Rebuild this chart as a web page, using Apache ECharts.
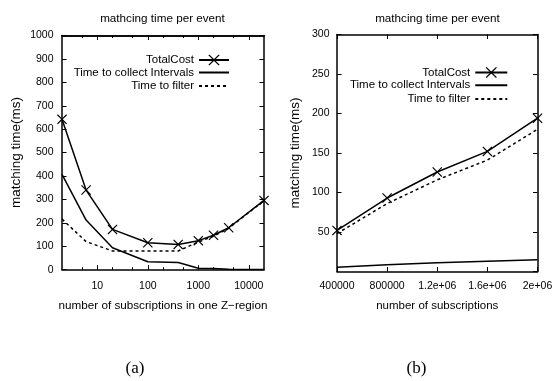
<!DOCTYPE html>
<html>
<head>
<meta charset="utf-8">
<script src="https://cdn.jsdelivr.net/npm/echarts@6/dist/echarts.min.js"></script>
<style>
  html, body { margin: 0; padding: 0; background: #fff; }
  #main { width: 552px; height: 381px; }
</style>
</head>
<body>
<div id="main"></div>
<script>
// (a) matching time vs number of subscriptions in one Z-region (log x)
const zoneSizes = [2, 6, 20, 100, 400, 1000, 2000, 4000, 20000]
const zoneTotal = [642, 340, 172, 115, 108, 124, 147, 179, 296]
const zoneCollect = [407, 212, 94, 34, 31, 6, 5, 2, 1]
const zoneFilter = [216, 120, 80, 80, 80, 118, 143, 177, 295]
const zoneMajorTicks = [10, 100, 1000, 10000]
const zoneMinorTicks = [5, 20, 50, 200, 500, 2000, 5000]

// (b) matching time vs number of subscriptions
const subCounts = [400000, 800000, 1200000, 1600000, 2000000]
const subTotal = [52, 93, 126, 152, 194]
const subCollect = [5.5, 8.5, 11, 13, 15]
const subFilter = [48, 86, 116, 141, 180]
const subTickLabels = ['400000', '800000', '1.2e+06', '1.6e+06', '2e+06']

const FONT = 'Liberation Sans'
const BLACK = '#000'
// gnuplot-ish X point marker
const CROSS = 'path://M0,0.8L0.8,0L5,4.2L9.2,0L10,0.8L5.8,5L10,9.2L9.2,10L5,5.8L0.8,10L0,9.2L4.2,5Z'

const zip = (xs, ys) => xs.map((x, i) => [x, ys[i]])
const plain = (v) => String(v)

const chartDom = document.getElementById('main')
const myChart = echarts.init(chartDom, null, { renderer: 'canvas' })

const tickStyle = { color: BLACK, width: 1 }
const lineAxis = { show: true, onZero: false, lineStyle: { color: BLACK, width: 1.5 } }
const nameStyle = (size) => ({ color: BLACK, fontFamily: FONT, fontSize: size })

// extra axis that only draws ticks (mirror / minor)
function tickAxis(base, position, values, len) {
  return Object.assign({}, base, {
    position: position,
    axisLine: position === 'top' || position === 'right' ? lineAxis : { show: false },
    axisLabel: { show: false },
    splitLine: { show: false },
    axisTick: { show: true, inside: true, length: len, lineStyle: tickStyle, customValues: values },
    name: ''
  })
}

const logBase = { type: 'log', logBase: 10, gridIndex: 0, min: 2, max: 20000 }
const subBase = { type: 'value', gridIndex: 1, min: 400000, max: 2000000, interval: 400000 }
const leftYBase = { type: 'value', gridIndex: 0, min: 0, max: 1000, interval: 100 }
const rightYBase = { type: 'value', gridIndex: 1, min: 0, max: 300, interval: 50 }

function legendRow(name, right, top, width, marker) {
  return {
    data: [name],
    orient: 'vertical',
    align: 'right',
    right: right,
    top: top,
    padding: 0,
    itemWidth: width,
    itemHeight: 14,
    selectedMode: false,
    itemStyle: marker ? {} : { opacity: 0 },
    textStyle: { color: BLACK, fontFamily: FONT, fontSize: 11.5 }
  }
}

function lineSeries(name, data, xi, yi, dashed, marker) {
  return {
    name: name,
    type: 'line',
    xAxisIndex: xi,
    yAxisIndex: yi,
    data: data,
    symbol: marker ? CROSS : 'none',
    symbolSize: 10,
    itemStyle: { color: BLACK },
    lineStyle: { color: BLACK, width: 1.5, type: dashed ? [3, 3] : 'solid' },
    emphasis: { disabled: true },
    z: 3
  }
}

const option = {
  animation: false,
  backgroundColor: '#fff',
  textStyle: { fontFamily: FONT, color: BLACK },
  title: [
    { text: 'mathcing time per event', left: 162.5, top: 12.5, textAlign: 'center', padding: 0,
      textStyle: { fontFamily: FONT, fontSize: 11.7, fontWeight: 'normal', color: BLACK } },
    { text: 'mathcing time per event', left: 437.5, top: 12.5, textAlign: 'center', padding: 0,
      textStyle: { fontFamily: FONT, fontSize: 11.7, fontWeight: 'normal', color: BLACK } },
    { text: '(a)', left: 135, top: 360, textAlign: 'center', padding: 0,
      textStyle: { fontFamily: 'Liberation Serif', fontSize: 17, fontWeight: 'normal', color: BLACK } },
    { text: '(b)', left: 416.5, top: 360, textAlign: 'center', padding: 0,
      textStyle: { fontFamily: 'Liberation Serif', fontSize: 17, fontWeight: 'normal', color: BLACK } }
  ],
  legend: [
    legendRow('TotalCost', 322, 54, 30, true),
    legendRow('Time to collect Intervals', 322, 66.5, 30, false),
    legendRow('Time to filter', 322, 80, 30, false),
    legendRow('TotalCost', 43.7, 66.5, 32, true),
    legendRow('Time to collect Intervals', 43.7, 79.3, 32, false),
    legendRow('Time to filter', 43.7, 93, 32, false)
  ],
  grid: [
    { left: 62, top: 35.5, width: 202, height: 234.2, outerBoundsMode: 'none', containLabel: false },
    { left: 337, top: 34.5, width: 200.5, height: 237, outerBoundsMode: 'none', containLabel: false }
  ],
  xAxis: [
    Object.assign({}, logBase, {
      position: 'bottom',
      axisLine: lineAxis,
      axisTick: { show: true, inside: true, length: 4.5, lineStyle: tickStyle, customValues: zoneMajorTicks },
      axisLabel: { customValues: zoneMajorTicks, formatter: plain, color: BLACK, fontFamily: FONT, fontSize: 10.5, margin: 10.5 },
      splitLine: { show: false },
      name: 'number of subscriptions in one Z\u2212region',
      nameLocation: 'middle',
      nameGap: 30,
      nameTextStyle: nameStyle(11.7)
    }),
    tickAxis(logBase, 'top', zoneMajorTicks, 4.5),
    tickAxis(logBase, 'bottom', zoneMinorTicks, 2.5),
    tickAxis(logBase, 'top', zoneMinorTicks, 2.5),
    Object.assign({}, subBase, {
      position: 'bottom',
      axisLine: lineAxis,
      axisTick: { show: true, inside: true, length: 4.5, lineStyle: tickStyle },
      axisLabel: {
        color: BLACK, fontFamily: FONT, fontSize: 10.5, margin: 9,
        formatter: (v) => subTickLabels[subCounts.indexOf(v)] || ''
      },
      splitLine: { show: false },
      name: 'number of subscriptions',
      nameLocation: 'middle',
      nameGap: 28.5,
      nameTextStyle: nameStyle(11.5)
    }),
    Object.assign(tickAxis(subBase, 'top', null, 4.5), {
      axisTick: { show: true, inside: true, length: 4.5, lineStyle: tickStyle }
    })
  ],
  yAxis: [
    Object.assign({}, leftYBase, {
      position: 'left',
      axisLine: lineAxis,
      axisTick: { show: true, inside: true, length: 4.5, lineStyle: tickStyle },
      axisLabel: { formatter: plain, color: BLACK, fontFamily: FONT, fontSize: 10.5, margin: 8.5 },
      splitLine: { show: false },
      name: 'matching time(ms)',
      nameLocation: 'middle',
      nameGap: 39,
      nameTextStyle: nameStyle(13.5)
    }),
    Object.assign(tickAxis(leftYBase, 'right', null, 4.5), {
      axisTick: { show: true, inside: true, length: 4.5, lineStyle: tickStyle }
    }),
    Object.assign({}, rightYBase, {
      position: 'left',
      axisLine: lineAxis,
      axisTick: { show: true, inside: true, length: 4.5, lineStyle: tickStyle },
      axisLabel: { formatter: plain, color: BLACK, fontFamily: FONT, fontSize: 10.5, margin: 7.5, showMinLabel: false },
      splitLine: { show: false },
      name: 'matching time(ms)',
      nameLocation: 'middle',
      nameGap: 35,
      nameTextStyle: nameStyle(13.5)
    }),
    Object.assign(tickAxis(rightYBase, 'right', null, 4.5), {
      axisTick: { show: true, inside: true, length: 4.5, lineStyle: tickStyle }
    })
  ],
  series: [
    lineSeries('TotalCost', zip(zoneSizes, zoneTotal), 0, 0, false, true),
    lineSeries('Time to collect Intervals', zip(zoneSizes, zoneCollect), 0, 0, false, false),
    lineSeries('Time to filter', zip(zoneSizes, zoneFilter), 0, 0, true, false),
    lineSeries('TotalCost', zip(subCounts, subTotal), 4, 2, false, true),
    lineSeries('Time to collect Intervals', zip(subCounts, subCollect), 4, 2, false, false),
    lineSeries('Time to filter', zip(subCounts, subFilter), 4, 2, true, false)
  ]
}

option && myChart.setOption(option)
</script>
</body>
</html>
